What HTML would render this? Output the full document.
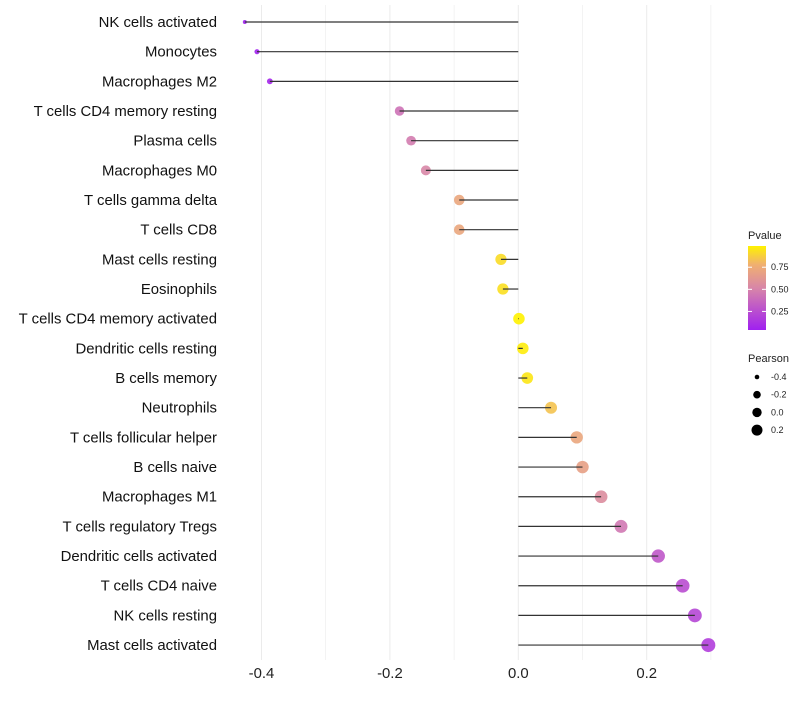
<!DOCTYPE html>
<html><head><meta charset="utf-8"><style>
body{margin:0;background:#fff;font-family:"Liberation Sans",sans-serif}
svg text{font-family:"Liberation Sans",sans-serif}
</style></head><body>
<svg id="chart" width="800" height="700">
<defs><linearGradient id="pg" x1="0" y1="1" x2="0" y2="0">
<stop offset="0" stop-color="#a020f0"/><stop offset="0.5" stop-color="#d886a8"/><stop offset="0.78" stop-color="#f0b070"/><stop offset="1" stop-color="#fff200"/></linearGradient></defs>
<g id="grid"></g>
<g id="marks"></g>
<g id="labels"></g>
<g id="xticks"></g>
<g>
<text x="748" y="239" font-size="11" fill="#222">Pvalue</text>
<rect x="748" y="246" width="18" height="84" fill="url(#pg)"/>
<g id="cbticks"></g>
</g>
<g>
<text x="748" y="362" font-size="11" fill="#222">Pearson</text>
<g id="sizeleg"></g>
</g>
</svg>
<script>
const categories=["NK cells activated","Monocytes","Macrophages M2","T cells CD4 memory resting","Plasma cells","Macrophages M0","T cells gamma delta","T cells CD8","Mast cells resting","Eosinophils","T cells CD4 memory activated","Dendritic cells resting","B cells memory","Neutrophils","T cells follicular helper","B cells naive","Macrophages M1","T cells regulatory  Tregs ","Dendritic cells activated","T cells CD4 naive","NK cells resting","Mast cells activated"];
const pearson=[-0.426,-0.407,-0.387,-0.185,-0.167,-0.144,-0.092,-0.092,-0.027,-0.024,0.001,0.007,0.014,0.051,0.091,0.1,0.129,0.16,0.218,0.256,0.275,0.296];
const pvalue=[0.04,0.05,0.07,0.42,0.47,0.52,0.72,0.72,0.92,0.93,0.99,0.97,0.95,0.84,0.72,0.68,0.56,0.45,0.3,0.25,0.22,0.18];
const xTicks=[-0.4,-0.2,0.0,0.2];
const xTickLabels=["-0.4","-0.2","0.0","0.2"];
const xGrid=[-0.4,-0.3,-0.2,-0.1,0,0.1,0.2,0.3];
const pTicks=[0.25,0.5,0.75];
const sizeLegend=[-0.4,-0.2,0.0,0.2];
const NS="http://www.w3.org/2000/svg";
const x=v=>518.3+v*642;
const y=i=>22+i*29.67;
const r=v=>2+6.34*(Math.sqrt(Math.max(0,v+0.43))-0.063);
const stops=[[0,[160,32,240]],[0.5,[216,134,168]],[0.78,[240,176,112]],[1,[255,242,0]]];
function col(p){const t=(p-0.04)/0.95;let a=stops[0],b=stops[1];for(let k=0;k<stops.length-1;k++){if(t>=stops[k][0]){a=stops[k];b=stops[k+1];}}
const f=Math.max(0,Math.min(1,(t-a[0])/(b[0]-a[0])));return "rgb("+a[1].map((c,j)=>Math.round(c+(b[1][j]-c)*f)).join(",")+")";}
function mk(tag,at,parent){const e=document.createElementNS(NS,tag);for(const k in at)e.setAttribute(k,at[k]);document.getElementById(parent).appendChild(e);return e;}
xGrid.forEach(g=>{const l=mk("line",{x1:x(g),x2:x(g),y1:5,y2:660,stroke:"#ebebeb","stroke-width":Math.round(g*10)%2===0?1:0.6},"grid");

});
categories.forEach((c,i)=>{
const cc=mk("circle",{cx:x(pearson[i]),cy:y(i),r:r(pearson[i]),fill:col(pvalue[i]),"fill-opacity":0.9},"marks");


const l=mk("line",{x1:x(0),x2:x(pearson[i]),y1:y(i),y2:y(i),stroke:"#333","stroke-width":1.2},"marks");


const t=mk("text",{x:217,y:y(i)+5,"text-anchor":"end","font-size":14.9,fill:"#111"},"labels");t.textContent=c;

});
xTicks.forEach((v,i)=>{const t=mk("text",{x:x(v),y:678,"text-anchor":"middle","font-size":14.9,fill:"#222"},"xticks");t.textContent=xTickLabels[i];

});
pTicks.forEach(p=>{const yy=330-(p-0.04)/0.95*84;
const l=mk("line",{x1:748,x2:752,y1:yy,y2:yy,stroke:"#fff"},"cbticks");
const l2=mk("line",{x1:762,x2:766,y1:yy,y2:yy,stroke:"#fff"},"cbticks");
const t=mk("text",{x:771,y:yy+3,"font-size":9,fill:"#222"},"cbticks");t.textContent=p.toFixed(2);

});
sizeLegend.forEach((v,i)=>{const yy=377+i*17.7;
const c=mk("circle",{cx:757,cy:yy,r:[2.3,3.8,4.7,5.5][i],fill:"#000"},"sizeleg");


const t=mk("text",{x:771,y:yy+3,"font-size":9,fill:"#222"},"sizeleg");t.textContent=v.toFixed(1);

});
</script>
</body></html>
